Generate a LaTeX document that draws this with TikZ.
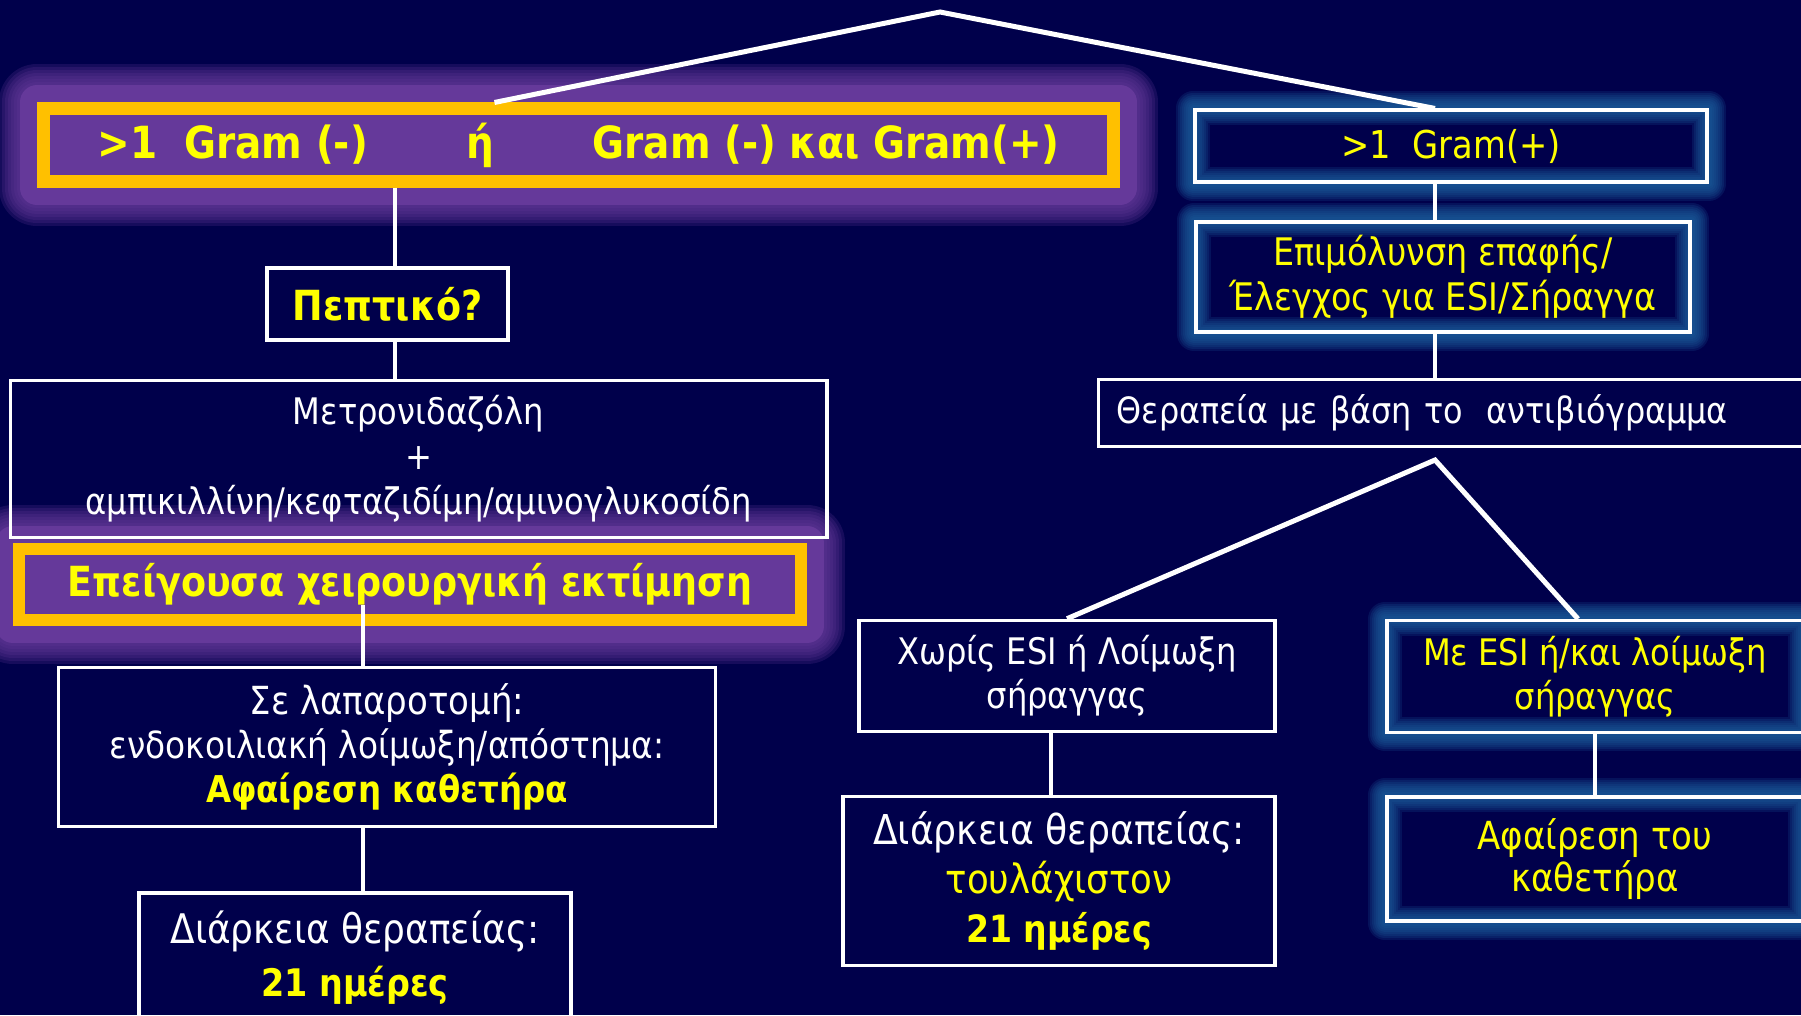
\documentclass[tikz,border=0pt]{standalone}
\usepackage{fontspec}
\setmainfont{DejaVu Sans}[FakeStretch=0.88]
\definecolor{bgCol}{HTML}{00004B}
\definecolor{glowCol}{HTML}{1B5E9E}
\definecolor{purpleCol}{HTML}{65399A}
\definecolor{keyCol}{HTML}{FFC000}
\definecolor{yellowCol}{HTML}{FFFF00}
\tikzstyle{connection}=[line width=0.04cm, draw=white]
\tikzstyle{branch}=[line width=0.05cm, draw=white]
\tikzstyle{plainbox}=[draw=white, line width=1pt, inner sep=0pt, align=center, text=white]
\tikzstyle{glowbox}=[plainbox, text=yellowCol]
\tikzstyle{keybox}=[draw=keyCol, line width=0.13cm, inner sep=0pt, align=center, text=yellowCol]
\pgfdeclarelayer{background}
\pgfdeclarelayer{glow}
\pgfsetlayers{background,glow,main}

\begin{document}
\begin{tikzpicture}[x=0.01cm, y=-0.01cm]

    % ==== CANVAS ====
    \begin{pgfonlayer}{background}
        \fill[bgCol] (0,0) rectangle (1801,1015);
    \end{pgfonlayer}
    \useasboundingbox (0,0) rectangle (1801,1015);

    % === LEFT BRANCH: Gram(-) ===
    \node[keybox, minimum width=10.70cm, minimum height=0.72cm, font=\bfseries\fontsize{12.6}{15}\selectfont] (gramneg) at (578.5,145)
        {>1~~Gram~(-)\hspace{28pt}ή\hspace{28pt}Gram~(-) και Gram(+)};
    \node[plainbox, text=yellowCol, minimum width=2.41cm, minimum height=0.72cm, font=\bfseries\fontsize{11.8}{14}\selectfont] (digestive) at (387.5,304)
        {Πεπτικό?};
    \node[plainbox, minimum width=8.16cm, minimum height=1.566cm, font=\fontsize{10.4}{12.8}\selectfont] (metro) at (418.5,459)
        {Μετρονιδαζόλη\\+\\αμπικιλλίνη/κεφταζιδίμη/αμινογλυκοσίδη};
    \node[keybox, line width=0.12cm, minimum width=7.82cm, minimum height=0.71cm, font=\bfseries\fontsize{11.8}{14}\selectfont] (surgery) at (410,584.5)
        {Επείγουσα χειρουργική εκτίμηση};
    \node[plainbox, minimum width=6.57cm, minimum height=1.587cm, font=\fontsize{10.6}{12.6}\selectfont] (laparo) at (387,747)
        {{\fontsize{11}{12.6}\selectfont Σε λαπαροτομή:}\\ενδοκοιλιακή λοίμωξη/απόστημα:\\{\color{yellowCol}\bfseries\fontsize{10.5}{12.6}\selectfont Αφαίρεση καθετήρα}};
    \node[plainbox, minimum width=4.32cm, minimum height=1.30cm, font=\fontsize{11.6}{15}\selectfont] (durleft) at (355,958)
        {Διάρκεια θεραπείας:\\{\color{yellowCol}\bfseries\fontsize{10.8}{15}\selectfont 21 ημέρες}};

    % === RIGHT BRANCH: Gram(+) ===
    \node[glowbox, minimum width=5.12cm, minimum height=0.715cm, font=\fontsize{10.9}{12}\selectfont] (grampos) at (1451,146)
        {>1~ Gram(+)};
    \node[glowbox, minimum width=4.94cm, minimum height=1.10cm, font=\fontsize{10.8}{12.8}\selectfont] (contam) at (1443,277)
        {Επιμόλυνση επαφής/\\Έλεγχος για ESI/Σήραγγα};
    \node[plainbox, text width=6.94cm, inner xsep=0.185cm, align=left, minimum height=0.67cm, font=\fontsize{10.3}{13}\selectfont] (therapy) at (1464,413)
        {Θεραπεία με βάση το~ αντιβιόγραμμα};
    \node[plainbox, minimum width=4.16cm, minimum height=1.11cm, font=\fontsize{10.4}{12.6}\selectfont] (noesi) at (1067,676)
        {Χωρίς ESI ή Λοίμωξη\\σήραγγας};
    \node[plainbox, minimum width=4.32cm, minimum height=1.69cm, font=\fontsize{11.7}{14}\selectfont] (durright) at (1059,881)
        {Διάρκεια θεραπείας:\\{\color{yellowCol}\fontsize{11.5}{14}\selectfont τουλάχιστον}\\{\color{yellowCol}\bfseries\fontsize{10.7}{13.4}\selectfont 21 ημέρες}};
    \node[glowbox, minimum width=4.16cm, minimum height=1.116cm, font=\fontsize{10.4}{12.6}\selectfont] (withesi) at (1595,676.5)
        {Με ESI ή/και λοίμωξη\\σήραγγας};
    \node[glowbox, minimum width=4.16cm, minimum height=1.24cm, font=\fontsize{11}{12.2}\selectfont] (removecath) at (1595,859)
        {Αφαίρεση του\\καθετήρα};

    % === GLOW ===
    \begin{pgfonlayer}{glow}
        \foreach \n in {grampos,contam,withesi,removecath} {
            \foreach \w in {0.34cm,0.30cm,0.26cm,0.22cm,0.18cm,0.14cm,0.10cm,0.06cm}
                \draw[glowCol, line width=\w, opacity=0.2, line join=round] (\n.south west) rectangle (\n.north east);
        }
        \foreach \n in {gramneg,surgery} {
            \fill[purpleCol] (\n.south west) rectangle (\n.north east);
            \foreach \w in {0.76cm,0.70cm,0.64cm,0.58cm,0.52cm,0.46cm,0.40cm}
                \draw[purpleCol, line width=\w, opacity=0.22, line join=round] (\n.south west) rectangle (\n.north east);
            \draw[purpleCol, line width=0.34cm, line join=round] (\n.south west) rectangle (\n.north east);
        }
    \end{pgfonlayer}

    % ==== CONNECTIONS ====
    \coordinate (root) at (940,12);
    \coordinate (split) at (1435,460);
    \coordinate (negaxis) at (395,0);
    \coordinate (posaxis) at (1435,0);
    \coordinate (noaxis) at (1051,0);
    \coordinate (surgcut) at (363,605);

    % root -> both branches
    \draw[branch] ([xshift=-0.84cm]gramneg.north) -- (root) -- (posaxis |- grampos.north);

    % Gram(-) chain
    \draw[connection] (negaxis |- gramneg.south) -- (negaxis |- digestive.north);
    \draw[connection] (negaxis |- digestive.south) -- (negaxis |- metro.north);
    \draw[connection] (surgcut) -- (surgcut |- laparo.north);
    \draw[connection] (surgcut |- laparo.south) -- (surgcut |- durleft.north);

    % Gram(+) chain
    \draw[connection] (posaxis |- grampos.south) -- (posaxis |- contam.north);
    \draw[connection] (posaxis |- contam.south) -- (posaxis |- therapy.north);
    \draw[branch] (noesi.north) -- (split) -- ([xshift=-0.17cm]withesi.north);
    \draw[connection] (noaxis |- noesi.south) -- (noaxis |- durright.north);
    \draw[connection] (withesi.south) -- (removecath.north);

\end{tikzpicture}
\end{document}
